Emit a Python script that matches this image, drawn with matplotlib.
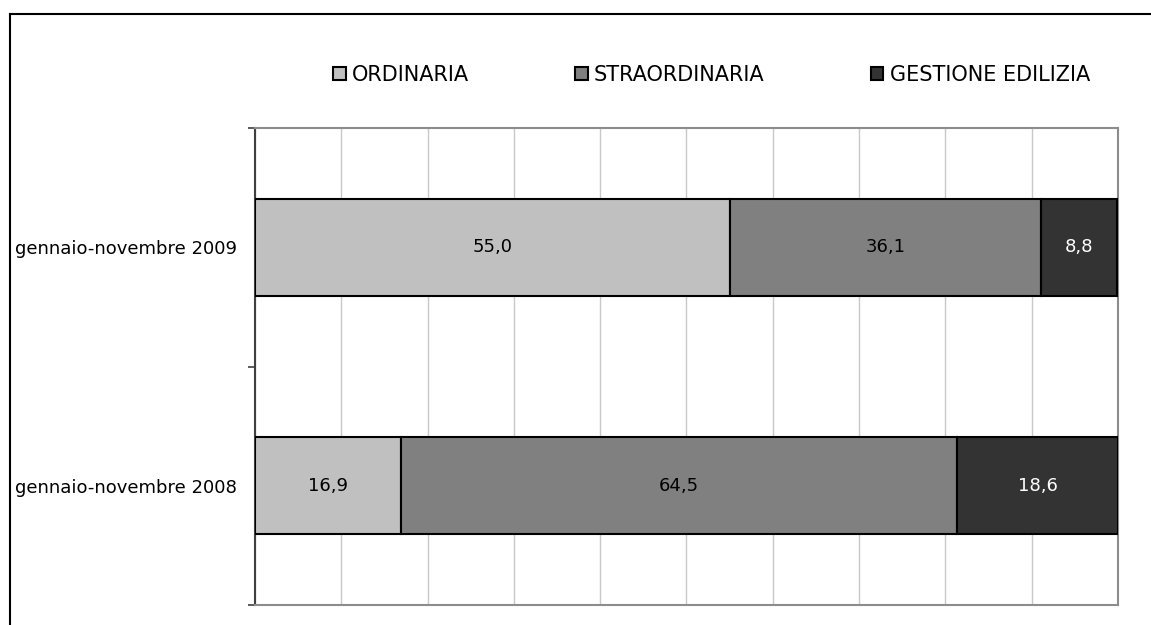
import numpy as np
import matplotlib.pyplot as plt
from matplotlib.patches import Patch
from matplotlib.lines import Line2D

periods = ["gennaio-novembre 2008", "gennaio-novembre 2009"]
series = ["ORDINARIA", "STRAORDINARIA", "GESTIONE EDILIZIA"]
ordinaria = [16.9, 55.0]
straordinaria = [64.5, 36.1]
gestione = [18.6, 8.8]
colors = ["#C0C0C0", "#808080", "#333333"]
text_colors = ["black", "black", "white"]

plt.rcParams["font.family"] = "DejaVu Sans"

fig = plt.figure(figsize=(11.51, 6.25), dpi=100)
ax = fig.add_axes([0.2215, 0.032, 0.7498, 0.7632])

y = np.arange(len(periods))
left = np.zeros(len(periods))
for vals, col, tc, name in zip([ordinaria, straordinaria, gestione], colors, text_colors, series):
    bars = ax.barh(y, vals, left=left, height=0.405, color=col, edgecolor="black",
                   linewidth=1.5, label=name, zorder=3)
    for b, v in zip(bars, vals):
        ax.text(b.get_x() + b.get_width() / 2, b.get_y() + b.get_height() / 2,
                f"{v:.1f}".replace(".", ","), ha="center", va="center",
                color=tc, fontsize=13, zorder=4)
    left += np.array(vals)

ax.set_xlim(0, 100)
ax.set_ylim(-0.5, 1.5)
ax.set_xticks(np.arange(0, 101, 10))
ax.xaxis.grid(True, color="#C8C8C8", linewidth=1)
ax.tick_params(axis="x", length=0, labelbottom=False)
ax.set_yticks(y)
ax.set_yticklabels(periods, fontsize=13)
ax.tick_params(axis="y", which="major", length=0, pad=13)
ax.set_yticks([-0.5, 0.5, 1.5], minor=True)
ax.tick_params(axis="y", which="minor", length=5, width=1.2, color="#404040")

for s in ["top", "right", "bottom"]:
    ax.spines[s].set_color("#8C8C8C")
    ax.spines[s].set_linewidth(1.5)
ax.spines["left"].set_color("#404040")
ax.spines["left"].set_linewidth(1.5)

handles = [Patch(facecolor=c, edgecolor="black", linewidth=1.5) for c in colors]
fig.legend(handles, series, loc="center left", bbox_to_anchor=(333 / 1151, 0.88), ncol=3,
           frameon=False, fontsize=15, handlelength=0.6, handleheight=0.6,
           handletextpad=0.3, columnspacing=5.1, borderpad=0, borderaxespad=0)

# outer chart frame (cropped at right and bottom)
fig.add_artist(Line2D([10 / 1151, 10 / 1151], [0, 1 - 14 / 625], transform=fig.transFigure,
                      color="black", linewidth=1.5))
fig.add_artist(Line2D([10 / 1151, 1], [1 - 14 / 625, 1 - 14 / 625], transform=fig.transFigure,
                      color="black", linewidth=1.5))

fig.savefig("out.png", dpi=100)
